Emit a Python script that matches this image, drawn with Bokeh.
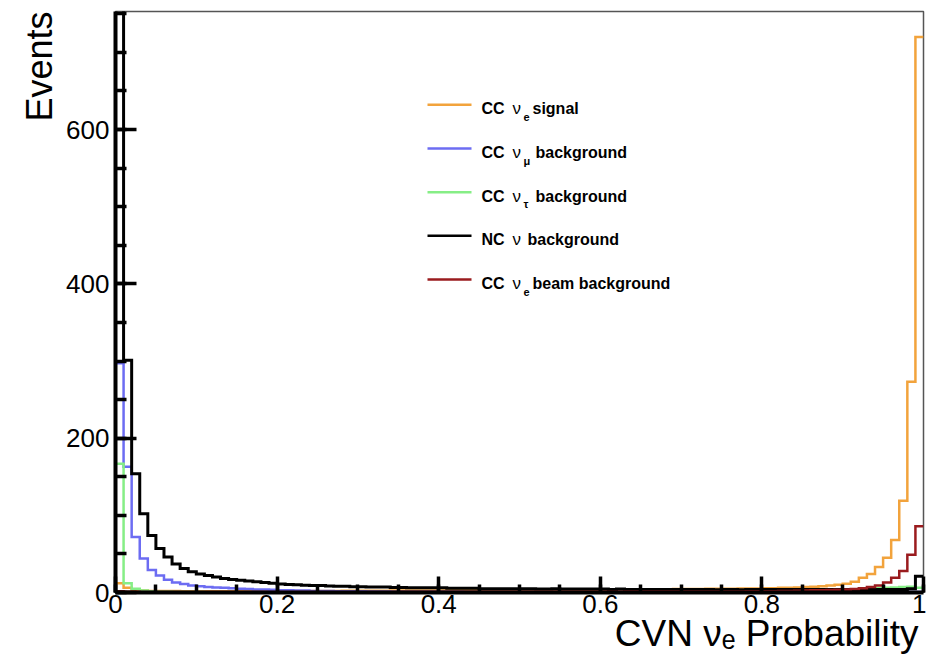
import math
import numpy as np
from bokeh.plotting import figure
from bokeh.models import Range1d, SingleIntervalTicker, CustomJSTickFormatter, Label, Title
from bokeh.embed import file_html
from bokeh.resources import INLINE

# ---------------- data (events per bin, 100 bins on [0, 1]) ----------------
n_bins = 100
x_min, x_max = 0.0, 1.0

cc_nue_signal = [
    12, 6, 3, 2.5, 2, 2, 1.8, 1.8, 1.6, 1.6,
    1.5, 1.5, 1.6, 1.5, 1.6, 1.7, 1.6, 1.7, 1.8, 1.8,
    1.8, 1.9, 1.9, 2, 2, 2, 2.1, 2.1, 2.2, 2.2,
    2.3, 2.3, 2.4, 2.4, 2.5, 2.5, 2.5, 2.6, 2.6, 2.7,
    2.7, 2.8, 2.8, 2.9, 2.9, 3, 3, 3, 3.1, 3.1,
    3.2, 3.2, 3.3, 3.3, 3.4, 3.4, 3.5, 3.5, 3.6, 3.6,
    3.7, 3.7, 3.8, 3.9, 4, 4, 4.1, 4.2, 4.3, 4.4,
    4.5, 4.5, 4.6, 4.7, 4.8, 4.9, 5, 5.1, 5.2, 5.3,
    5.5, 5.5, 6, 6, 6.5, 7, 7.5, 8, 9, 10,
    11.5, 14, 19, 24, 33, 45, 68, 119, 273, 720,
]

cc_numu_bkg = [
    297, 163, 72, 44, 29, 22, 16.5, 13, 11, 9,
    8, 7, 6.5, 6, 5.5, 5, 4.5, 4, 4, 3.5,
    3, 3, 2.5, 2.5, 2, 2, 2, 1.5, 1.5, 1.5,
    1.5, 1.2, 1.2, 1.2, 1, 1, 1, 1, 1, 0.9,
    0.9, 0.9, 0.9, 0.8, 0.8, 0.8, 0.8, 0.8, 0.8, 0.7,
    0.7, 0.7, 0.7, 0.7, 0.7, 0.7, 0.6, 0.6, 0.6, 0.6,
    0.6, 0.6, 0.6, 0.6, 0.6, 0.5, 0.5, 0.5, 0.5, 0.5,
    0.5, 0.5, 0.5, 0.5, 0.5, 0.5, 0.5, 0.5, 0.5, 0.5,
    0.5, 0.5, 0.5, 0.5, 0.5, 0.5, 0.5, 0.5, 0.5, 0.5,
    0.5, 0.5, 0.5, 0.5, 0.5, 0.5, 0.6, 0.6, 0.7, 0.8,
]

cc_nutau_bkg = [
    167, 12, 5, 2.5, 1.5, 1, 1, 0.8, 0.6, 0.5,
    0.5, 0.4, 0.4, 0.4, 0.4, 0.4, 0.3, 0.3, 0.3, 0.3,
    0.3, 0.3, 0.3, 0.3, 0.3, 0.3, 0.3, 0.3, 0.3, 0.3,
    0.3, 0.3, 0.3, 0.3, 0.3, 0.3, 0.3, 0.3, 0.3, 0.3,
    0.3, 0.3, 0.3, 0.3, 0.3, 0.3, 0.3, 0.3, 0.3, 0.3,
    0.3, 0.3, 0.3, 0.3, 0.3, 0.3, 0.3, 0.3, 0.3, 0.3,
    0.3, 0.3, 0.3, 0.3, 0.3, 0.3, 0.3, 0.4, 0.4, 0.4,
    0.4, 0.4, 0.4, 0.4, 0.5, 0.5, 0.5, 0.5, 0.5, 0.6,
    0.6, 0.7, 0.8, 0.9, 1, 1.2, 1.4, 1.6, 2, 2.4,
    3, 3.5, 4.5, 5, 5.5, 6, 6.5, 7, 7.5, 6,
]

nc_bkg = [
    940, 301, 154, 102, 74, 57, 46, 37, 31, 27,
    24, 22, 20, 18, 17, 16, 15, 14, 13, 12,
    11, 10.5, 10, 9.5, 9, 9, 8.5, 8, 8, 7.5,
    7.5, 7, 7, 7, 6.5, 6.5, 6, 6, 6, 6,
    6, 5.5, 5.5, 5.5, 5.5, 5, 5, 5, 5, 5,
    5, 5, 4.5, 4.5, 5, 4.5, 4.5, 4.5, 4.5, 4.5,
    4.5, 4, 4.5, 4, 4, 4, 4, 4, 4, 4,
    4, 4, 4, 4, 3.5, 4, 4, 3.5, 4, 4,
    4, 4, 4, 4, 4, 4, 4, 4, 4, 4,
    4, 4, 4, 4, 4, 4, 4, 4, 5, 21,
]

cc_nue_beam_bkg = [
    1.5, 1, 1, 0.8, 0.8, 0.8, 0.7, 0.7, 0.7, 0.7,
    0.7, 0.7, 0.7, 0.7, 0.7, 0.7, 0.7, 0.7, 0.7, 0.7,
    0.7, 0.7, 0.7, 0.7, 0.7, 0.8, 0.8, 0.8, 0.8, 0.8,
    0.8, 0.8, 0.8, 0.8, 0.8, 0.9, 0.9, 0.9, 0.9, 0.9,
    0.9, 0.9, 0.9, 0.9, 1, 1, 1, 1, 1, 1,
    1, 1, 1, 1, 1, 1, 1.1, 1.1, 1.1, 1.1,
    1.1, 1.1, 1.1, 1.2, 1.2, 1.2, 1.2, 1.2, 1.2, 1.3,
    1.3, 1.3, 1.3, 1.3, 1.4, 1.4, 1.4, 1.4, 1.5, 1.5,
    1.5, 1.6, 1.8, 2, 2.2, 2.5, 2.8, 3, 3.3, 3.6,
    4, 4.5, 5.5, 7, 9, 13, 19, 28, 49, 86,
]

legend_prefix = ["CC", "CC", "CC", "NC", "CC"]
legend_sub = ["e", "\u03bc", "\u03c4", "", "e"]
legend_rest = ["signal", "background", "background", "background", "beam background"]

x_title = "CVN \u03bd\u2091 Probability"
y_title = "Events"

x_ticks_major = 0.2
y_ticks_major = 200
y_max = 753

# ---------------- styling ----------------
COL_ORANGE = "#F2A33C"
COL_BLUE = "#6C6CF2"
COL_GREEN = "#86EE86"
COL_BLACK = "#000000"
COL_DRED = "#9A1B1E"

series = [
    (cc_nue_signal, COL_ORANGE, 2.5),
    (cc_numu_bkg, COL_BLUE, 2.5),
    (cc_nutau_bkg, COL_GREEN, 2.5),
    (nc_bkg, COL_BLACK, 3),
    (cc_nue_beam_bkg, COL_DRED, 2.5),
]
legend_colors = [COL_ORANGE, COL_BLUE, COL_GREEN, COL_BLACK, COL_DRED]

W, H = 926, 664
FL, FR, FT, FB = 115, 923, 11, 592   # frame edges in page pixels
FONT = "Liberation Sans"


def px_x(px):
    return x_min + (px - FL) / (FR - FL) * (x_max - x_min)


def px_y(py):
    return (FB - py) / (FB - FT) * y_max


p = figure(
    width=W, height=H,
    x_range=Range1d(x_min, x_max), y_range=Range1d(0, y_max),
    output_backend="svg", toolbar_location=None,
    min_border_left=FL, min_border_right=W - FR,
    min_border_top=FT, min_border_bottom=H - FB,
    background_fill_color="white", border_fill_color="white",
)
p.grid.visible = False
p.outline_line_color = "#555555"
p.outline_line_width = 1.5

edges = np.linspace(x_min, x_max, n_bins + 1)
for vals, col, lw in series:
    yv = list(vals) + [vals[-1]]
    p.step(x=edges, y=yv, mode="after", line_color=col, line_width=lw,
           line_join="miter")

# axes
for ax in (p.xaxis[0], p.yaxis[0]):
    ax.axis_line_width = 4
    ax.axis_line_color = "black"
    ax.major_tick_line_color = "black"
    ax.minor_tick_line_color = "black"
    ax.major_tick_line_width = 3.5
    ax.minor_tick_line_width = 3.5
    ax.major_tick_out = 0
    ax.minor_tick_out = 0
    ax.major_label_text_font = FONT
    ax.major_label_text_font_size = "26px"
    ax.major_label_text_color = "black"
    ax.axis_label = None

p.xaxis.ticker = SingleIntervalTicker(interval=x_ticks_major, num_minor_ticks=4)
p.yaxis.ticker = SingleIntervalTicker(interval=y_ticks_major, num_minor_ticks=4)
p.xaxis.major_tick_in = 16
p.xaxis.minor_tick_in = 8
p.yaxis.major_tick_in = 21
p.yaxis.minor_tick_in = 11
p.xaxis.major_label_standoff = 2
p.yaxis.major_label_standoff = 6
p.xaxis.formatter = CustomJSTickFormatter(
    code="return tick.toFixed(1).replace(/\\.0$/, '');")
p.yaxis.formatter = CustomJSTickFormatter(code="return tick.toFixed(0);")

# axis titles as side-panel titles (right-aligned like the reference)
p.add_layout(Title(text=y_title, align="right", text_font=FONT,
                   text_font_size="36px", text_font_style="normal",
                   text_color="black", standoff=7, offset=0), "left")
p.add_layout(Title(text=x_title, align="right", text_font=FONT,
                   text_font_size="37px", text_font_style="normal",
                   text_color="black", standoff=-9, offset=5), "below")

# legend (manual, to allow Greek letters with subscripts)
row_base = [108.3, 152, 195.7, 239.3, 283]
rest_x = [532, 535, 535, 527, 532]
for i in range(len(legend_prefix)):
    yb = row_base[i]
    p.segment(x0=[px_x(427)], y0=[px_y(yb - 4)], x1=[px_x(471)], y1=[px_y(yb - 4)],
              line_color=legend_colors[i], line_width=2.5)
    p.add_layout(Label(x=px_x(481), y=px_y(yb), text=legend_prefix[i],
                       text_baseline="alphabetic", text_font=FONT,
                       text_font_style="bold", text_font_size="16px",
                       text_color="black"))
    p.add_layout(Label(x=px_x(512), y=px_y(yb), text="\u03bd",
                       text_baseline="alphabetic", text_font=FONT,
                       text_font_size="17px", text_color="black"))
    if legend_sub[i]:
        p.add_layout(Label(x=px_x(523), y=px_y(yb + 8), text=legend_sub[i],
                           text_baseline="alphabetic", text_font=FONT,
                           text_font_style="bold", text_font_size="11px",
                           text_color="black"))
    p.add_layout(Label(x=px_x(rest_x[i]), y=px_y(yb), text=legend_rest[i],
                       text_baseline="alphabetic", text_font=FONT,
                       text_font_style="bold", text_font_size="16px",
                       text_color="black"))

open("out.html", "w").write(file_html(p, INLINE))
